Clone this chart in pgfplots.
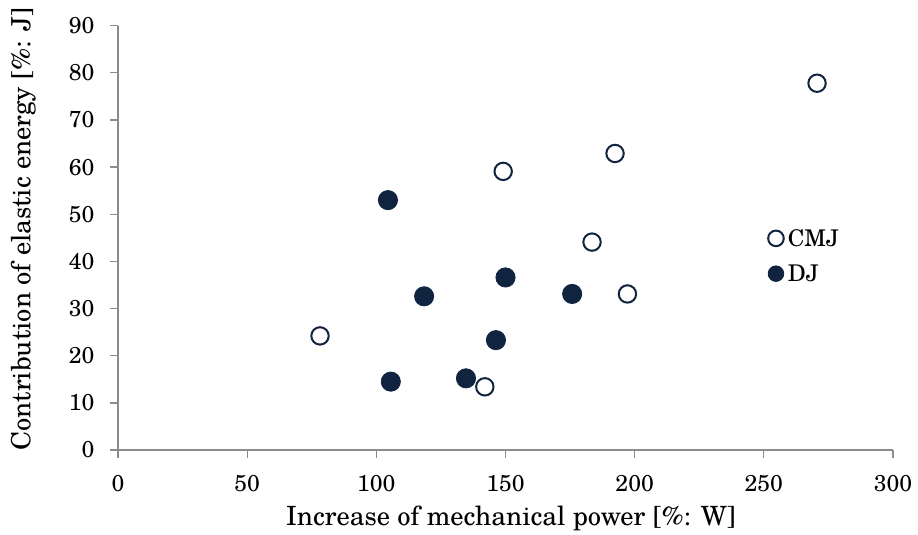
\documentclass[border=0pt]{standalone}
\usepackage{fontspec}
\setmainfont{TeX Gyre Schola}
\usepackage{pgfplots}
\pgfplotsset{compat=1.18}
\definecolor{navy}{HTML}{10243F}
\definecolor{axgray}{HTML}{8C8C8C}

\begin{document}
\begin{tikzpicture}[x=1pt,y=1pt]
\path (0,0) rectangle (918,535);
\begin{axis}[
  at={(118pt,85pt)}, anchor=south west,
  scale only axis, width=775pt, height=424.3pt,
  xmin=0, xmax=300, ymin=0, ymax=90,
  xtick={0,50,...,300}, ytick={0,10,...,90},
  axis lines=left,
  axis line style={axgray, line width=1.3pt, -},
  tick style={axgray, line width=1.3pt},
  tick align=outside, major tick length=8pt,
  font=\fontsize{26.5}{30}\selectfont,
  /pgf/number format/assume math mode=true,
  tick label style={font=\fontsize{23}{27}\selectfont, black},
  yticklabel style={xshift=-12pt},
  xticklabel style={yshift=-14pt},
  xlabel={Increase of mechanical power [\%: W]},
  ylabel={Contribution of elastic energy [\%: J]},
  xlabel style={at={(axis description cs:0.507,-0.1768)}, anchor=base},
  ylabel style={at={(axis description cs:-0.122,0.52)}, anchor=center},
  clip=false,
  legend image code/.code={\draw[#1, mark size=7.8pt] plot coordinates {(0,0)};},
  legend style={draw=none, fill=none, inner sep=0pt, at={(axis cs:251.6,47.1)},
    anchor=north west, row sep=15pt, column sep=3pt,
    nodes={inner sep=1pt, anchor=west}, font=\fontsize{23}{27}\selectfont},
]
\addplot[only marks, mark=*, mark size=8.7pt,
  mark options={fill=white, draw=navy, line width=2pt}]
  coordinates {(78.2,24.2) (149.1,59.1) (192.4,62.9) (270.6,77.8) (183.5,44.1) (197.2,33.1) (142.0,13.4)};
\addlegendentry{CMJ}
\addplot[only marks, mark=*, mark size=9.6pt,
  mark options={fill=navy, draw=navy, line width=0.8pt}]
  coordinates {(104.5,53.0) (118.5,32.6) (150.0,36.6) (175.8,33.1) (146.3,23.3) (134.7,15.2) (105.6,14.5)};
\addlegendentry{DJ}
\end{axis}
\end{tikzpicture}
\end{document}
